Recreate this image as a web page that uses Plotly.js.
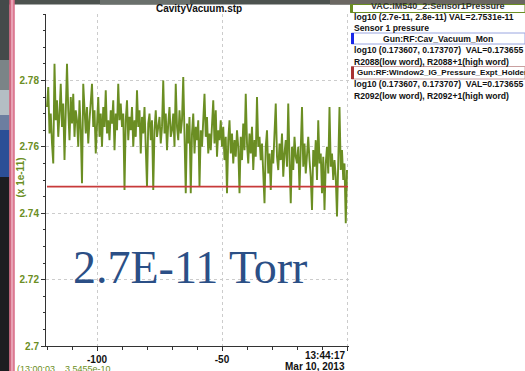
<!DOCTYPE html>
<html>
<head>
<meta charset="utf-8">
<script src="https://cdn.plot.ly/plotly-3.0.1.min.js"></script>
<style>
  html, body { margin: 0; padding: 0; background: #fff; overflow: hidden; }
  #chart { width: 525px; height: 371px; }
</style>
</head>
<body>
<div id="chart"></div>
<script>
// Strip chart of cavity vacuum (VAC:IM540_2 sensor 1), last two minutes, in units of 1e-11 Torr.
const sampleStart = -120;   // seconds before 13:44:17
const samplePeriod = 0.5;   // seconds between samples

const sensorPressure = [
  2.772, 2.778, 2.764, 2.770, 2.761, 2.755, 2.785, 2.768, 2.774, 2.763,
  2.770, 2.779, 2.766, 2.773, 2.756, 2.769, 2.785, 2.771, 2.762, 2.775,
  2.767, 2.776, 2.763, 2.771, 2.768, 2.760, 2.774, 2.765, 2.749, 2.779,
  2.770, 2.764, 2.772, 2.761, 2.768, 2.773, 2.779, 2.766, 2.771, 2.758,
  2.769, 2.775, 2.763, 2.770, 2.760, 2.772, 2.766, 2.777, 2.764, 2.768,
  2.762, 2.771, 2.767, 2.774, 2.759, 2.770, 2.765, 2.779, 2.768, 2.773,
  2.766, 2.770, 2.747, 2.768, 2.774, 2.762, 2.769, 2.765, 2.772, 2.760,
  2.768, 2.763, 2.777, 2.766, 2.771, 2.758, 2.769, 2.764, 2.772, 2.761,
  2.748, 2.767, 2.770, 2.762, 2.768, 2.747, 2.765, 2.771, 2.763, 2.766,
  2.769, 2.761, 2.766, 2.780, 2.764, 2.770, 2.759, 2.767, 2.772, 2.763,
  2.765, 2.770, 2.760, 2.779, 2.766, 2.762, 2.771, 2.764, 2.768, 2.781,
  2.763, 2.746, 2.767, 2.761, 2.769, 2.746, 2.764, 2.770, 2.758, 2.766,
  2.762, 2.768, 2.748, 2.765, 2.760, 2.767, 2.776, 2.763, 2.769, 2.758,
  2.764, 2.759, 2.766, 2.774, 2.761, 2.771, 2.757, 2.765, 2.762, 2.768,
  2.760, 2.766, 2.756, 2.763, 2.746, 2.762, 2.768, 2.758, 2.764, 2.755,
  2.762, 2.757, 2.765, 2.760, 2.746, 2.763, 2.756, 2.767, 2.759, 2.776,
  2.761, 2.755, 2.764, 2.758, 2.766, 2.753, 2.762, 2.757, 2.775, 2.760,
  2.763, 2.756, 2.761, 2.754, 2.743, 2.760, 2.765, 2.752, 2.758, 2.747,
  2.759, 2.755, 2.762, 2.773, 2.757, 2.753, 2.761, 2.756, 2.764, 2.751,
  2.758, 2.762, 2.754, 2.773, 2.756, 2.743, 2.760, 2.753, 2.763, 2.757,
  2.755, 2.760, 2.747, 2.758, 2.772, 2.754, 2.761, 2.752, 2.757, 2.763,
  2.756, 2.751, 2.741, 2.759, 2.754, 2.762, 2.750, 2.768, 2.755, 2.758,
  2.746, 2.757, 2.741, 2.755, 2.760, 2.752, 2.772, 2.754, 2.758, 2.750,
  2.756, 2.751, 2.739, 2.757, 2.772, 2.753, 2.759, 2.750, 2.755, 2.737,
  2.753
];

// Window2 IG reading, flat over the window
const holderPressure = 2.748;

const xTickVals = [-100, -50, 0];
const xTickText = ['-100', '-50', ''];
const yTickVals = [2.70, 2.72, 2.74, 2.76, 2.78];
const yTickText = ['2.7', '2.72', '2.74', '2.76', '2.78'];

const sampleTimes = sensorPressure.map((_, i) => sampleStart + i * samplePeriod);

// plot-area geometry in pixels
const L = 46, R = 176, T = 14, B = 25, PW = 525, PH = 371;
const W = PW - L - R, H = PH - T - B;
const px = x => (x - L) / W;
const py = y => (PH - B - y) / H;

const green = '#6b8e23';
const narrow = 'Liberation Sans Narrow, Liberation Sans, Arial, sans-serif';

const traces = [
  {
    x: sampleTimes, y: sensorPressure, type: 'scatter', mode: 'lines',
    line: { color: green, width: 1.9 }, hoverinfo: 'skip'
  },
  {
    x: [sampleStart, 0.4], y: [holderPressure, holderPressure], type: 'scatter', mode: 'lines',
    line: { color: '#c83a3a', width: 1.6 }, hoverinfo: 'skip'
  }
];

function rect(x0, y0, x1, y1, fill, line) {
  return {
    type: 'rect', xref: 'paper', yref: 'paper', layer: 'above',
    x0: px(x0), x1: px(x1), y0: py(y1), y1: py(y0),
    fillcolor: fill, line: line || { width: 0 }
  };
}

const shapes = [
  // photo edges around the window
  rect(0, 0, 525, 4.5, '#4d534f'),
  rect(100, 0, 190, 4.5, '#6a706c'),
  rect(330, 0, 525, 4.5, '#6b6762'),
  rect(0, 0, 9.5, 60, '#444a4a'),
  rect(0, 60, 9.5, 90, '#7b8487'),
  rect(0, 90, 9.5, 115, '#b4bec4'),
  rect(0, 115, 9.5, 130, '#6c7ea0'),
  rect(0, 130, 9.5, 177, '#2c4f96'),
  rect(0, 177, 9.5, 371, '#1c1d20'),
  // pink window frame
  rect(9.5, 0, 14.5, 371, '#e8a2b4'),
  rect(9.5, 0, 10.5, 371, '#b8304f'),
  rect(13.5, 0, 14.5, 371, '#d05070'),
  // legend header boxes
  rect(350.5, 4.5, 525, 12.5, 'rgba(0,0,0,0)', { color: green, width: 1 }),
  rect(350, 4.5, 353, 12.5, green),
  rect(351.5, 33, 525, 44, 'rgba(0,0,0,0)', { color: '#9aa6e0', width: 1 }),
  rect(351, 33, 354, 44, '#1a28e8'),
  rect(351.5, 66.5, 525, 79, 'rgba(0,0,0,0)', { color: '#c9a0a0', width: 1 }),
  rect(351, 66.5, 354, 79, '#a83232')
];

const legendFont = { family: narrow, size: 8.6, color: '#111', weight: 'bold' };

function label(x, y, text, opts) {
  return Object.assign({
    xref: 'paper', yref: 'paper', x: px(x), y: py(y), text: text,
    showarrow: false, xanchor: 'left', yanchor: 'middle',
    font: legendFont
  }, opts || {});
}

const annotations = [
  label(199, 8.5, 'CavityVacuum.stp', { xanchor: 'center', font: { family: narrow, size: 10, color: '#111', weight: 'bold' } }),
  label(437, 6.5, 'VAC:IM540_2:Sensor1Pressure', { xanchor: 'center', font: { family: narrow, size: 9, color: '#333', weight: 'bold' } }),
  label(352, 17, 'log10 (2.7e-11, 2.8e-11) VAL=2.7531e-11'),
  label(352, 28, 'Sensor 1 pressure'),
  label(438, 38.5, 'Gun:RF:Cav_Vacuum_Mon', { xanchor: 'center' }),
  label(352, 50, 'log10 (0.173607, 0.173707)  VAL=0.173655'),
  label(352, 61.5, 'R2088(low word), R2088+1(high word)'),
  label(355, 72.5, 'Gun:RF:Window2_IG_Pressure_Expt_Holder', { font: { family: narrow, size: 8, color: '#111', weight: 'bold' } }),
  label(352, 84.5, 'log10 (0.173607, 0.173707)  VAL=0.173655'),
  label(352, 95.5, 'R2092(low word), R2092+1(high word)'),
  // time stamp for the right end of the axis
  label(347, 355.5, '13:44:17', { xanchor: 'right', font: { family: narrow, size: 10, color: '#111', weight: 'bold' } }),
  label(347, 366, 'Mar 10, 2013', { xanchor: 'right', font: { family: narrow, size: 10, color: '#111', weight: 'bold' } }),
  // axis scale note
  label(19.5, 178, '(x 1e-11)', { xanchor: 'center', textangle: -90,
    font: { family: narrow, size: 10, color: green, weight: 'bold' } }),
  // cursor readout at the bottom edge
  label(15, 369, '(13:00:03    3.5455e-10', { yanchor: 'middle',
    font: { family: narrow, size: 9, color: green } }),
  // big overlay reading
  label(190, 267, '2.7E-11 Torr', { xanchor: 'center',
    font: { family: 'Liberation Serif, Times New Roman, serif', size: 46, color: '#2b4f86' } })
];

const layout = {
  width: PW, height: PH,
  margin: { l: L, r: R, t: T, b: B, pad: 0 },
  paper_bgcolor: '#ffffff', plot_bgcolor: '#ffffff',
  showlegend: false,
  xaxis: {
    range: [-120.4, 0.8], tickmode: 'array', tickvals: xTickVals, ticktext: xTickText,
    ticks: 'outside', ticklen: 4, tickcolor: '#333', tickwidth: 1,
    showline: true, linecolor: '#333', linewidth: 1,
    showgrid: true, gridcolor: '#cccccc', griddash: '3px,3px', gridwidth: 1,
    zeroline: false, fixedrange: true,
    tickfont: { family: narrow, size: 10, color: '#111', weight: 'bold' },
    minor: { tickmode: 'linear', tick0: 0, dtick: 10, ticks: 'outside', ticklen: 3, tickcolor: '#333', showgrid: false }
  },
  yaxis: {
    range: [2.7, 2.8], tickmode: 'array', tickvals: yTickVals, ticktext: yTickText,
    ticks: 'outside', ticklen: 4, tickcolor: '#333', tickwidth: 1,
    showline: true, linecolor: '#333', linewidth: 1,
    showgrid: true, gridcolor: '#cccccc', griddash: '3px,3px', gridwidth: 1,
    zeroline: false, fixedrange: true,
    tickfont: { family: narrow, size: 10, color: green, weight: 'bold' },
    minor: { tickmode: 'linear', tick0: 2.7, dtick: 0.005, ticks: 'outside', ticklen: 2, tickcolor: '#333', showgrid: false }
  },
  shapes: shapes,
  annotations: annotations
};

Plotly.newPlot('chart', traces, layout, { displayModeBar: false, staticPlot: true });
</script>
</body>
</html>
